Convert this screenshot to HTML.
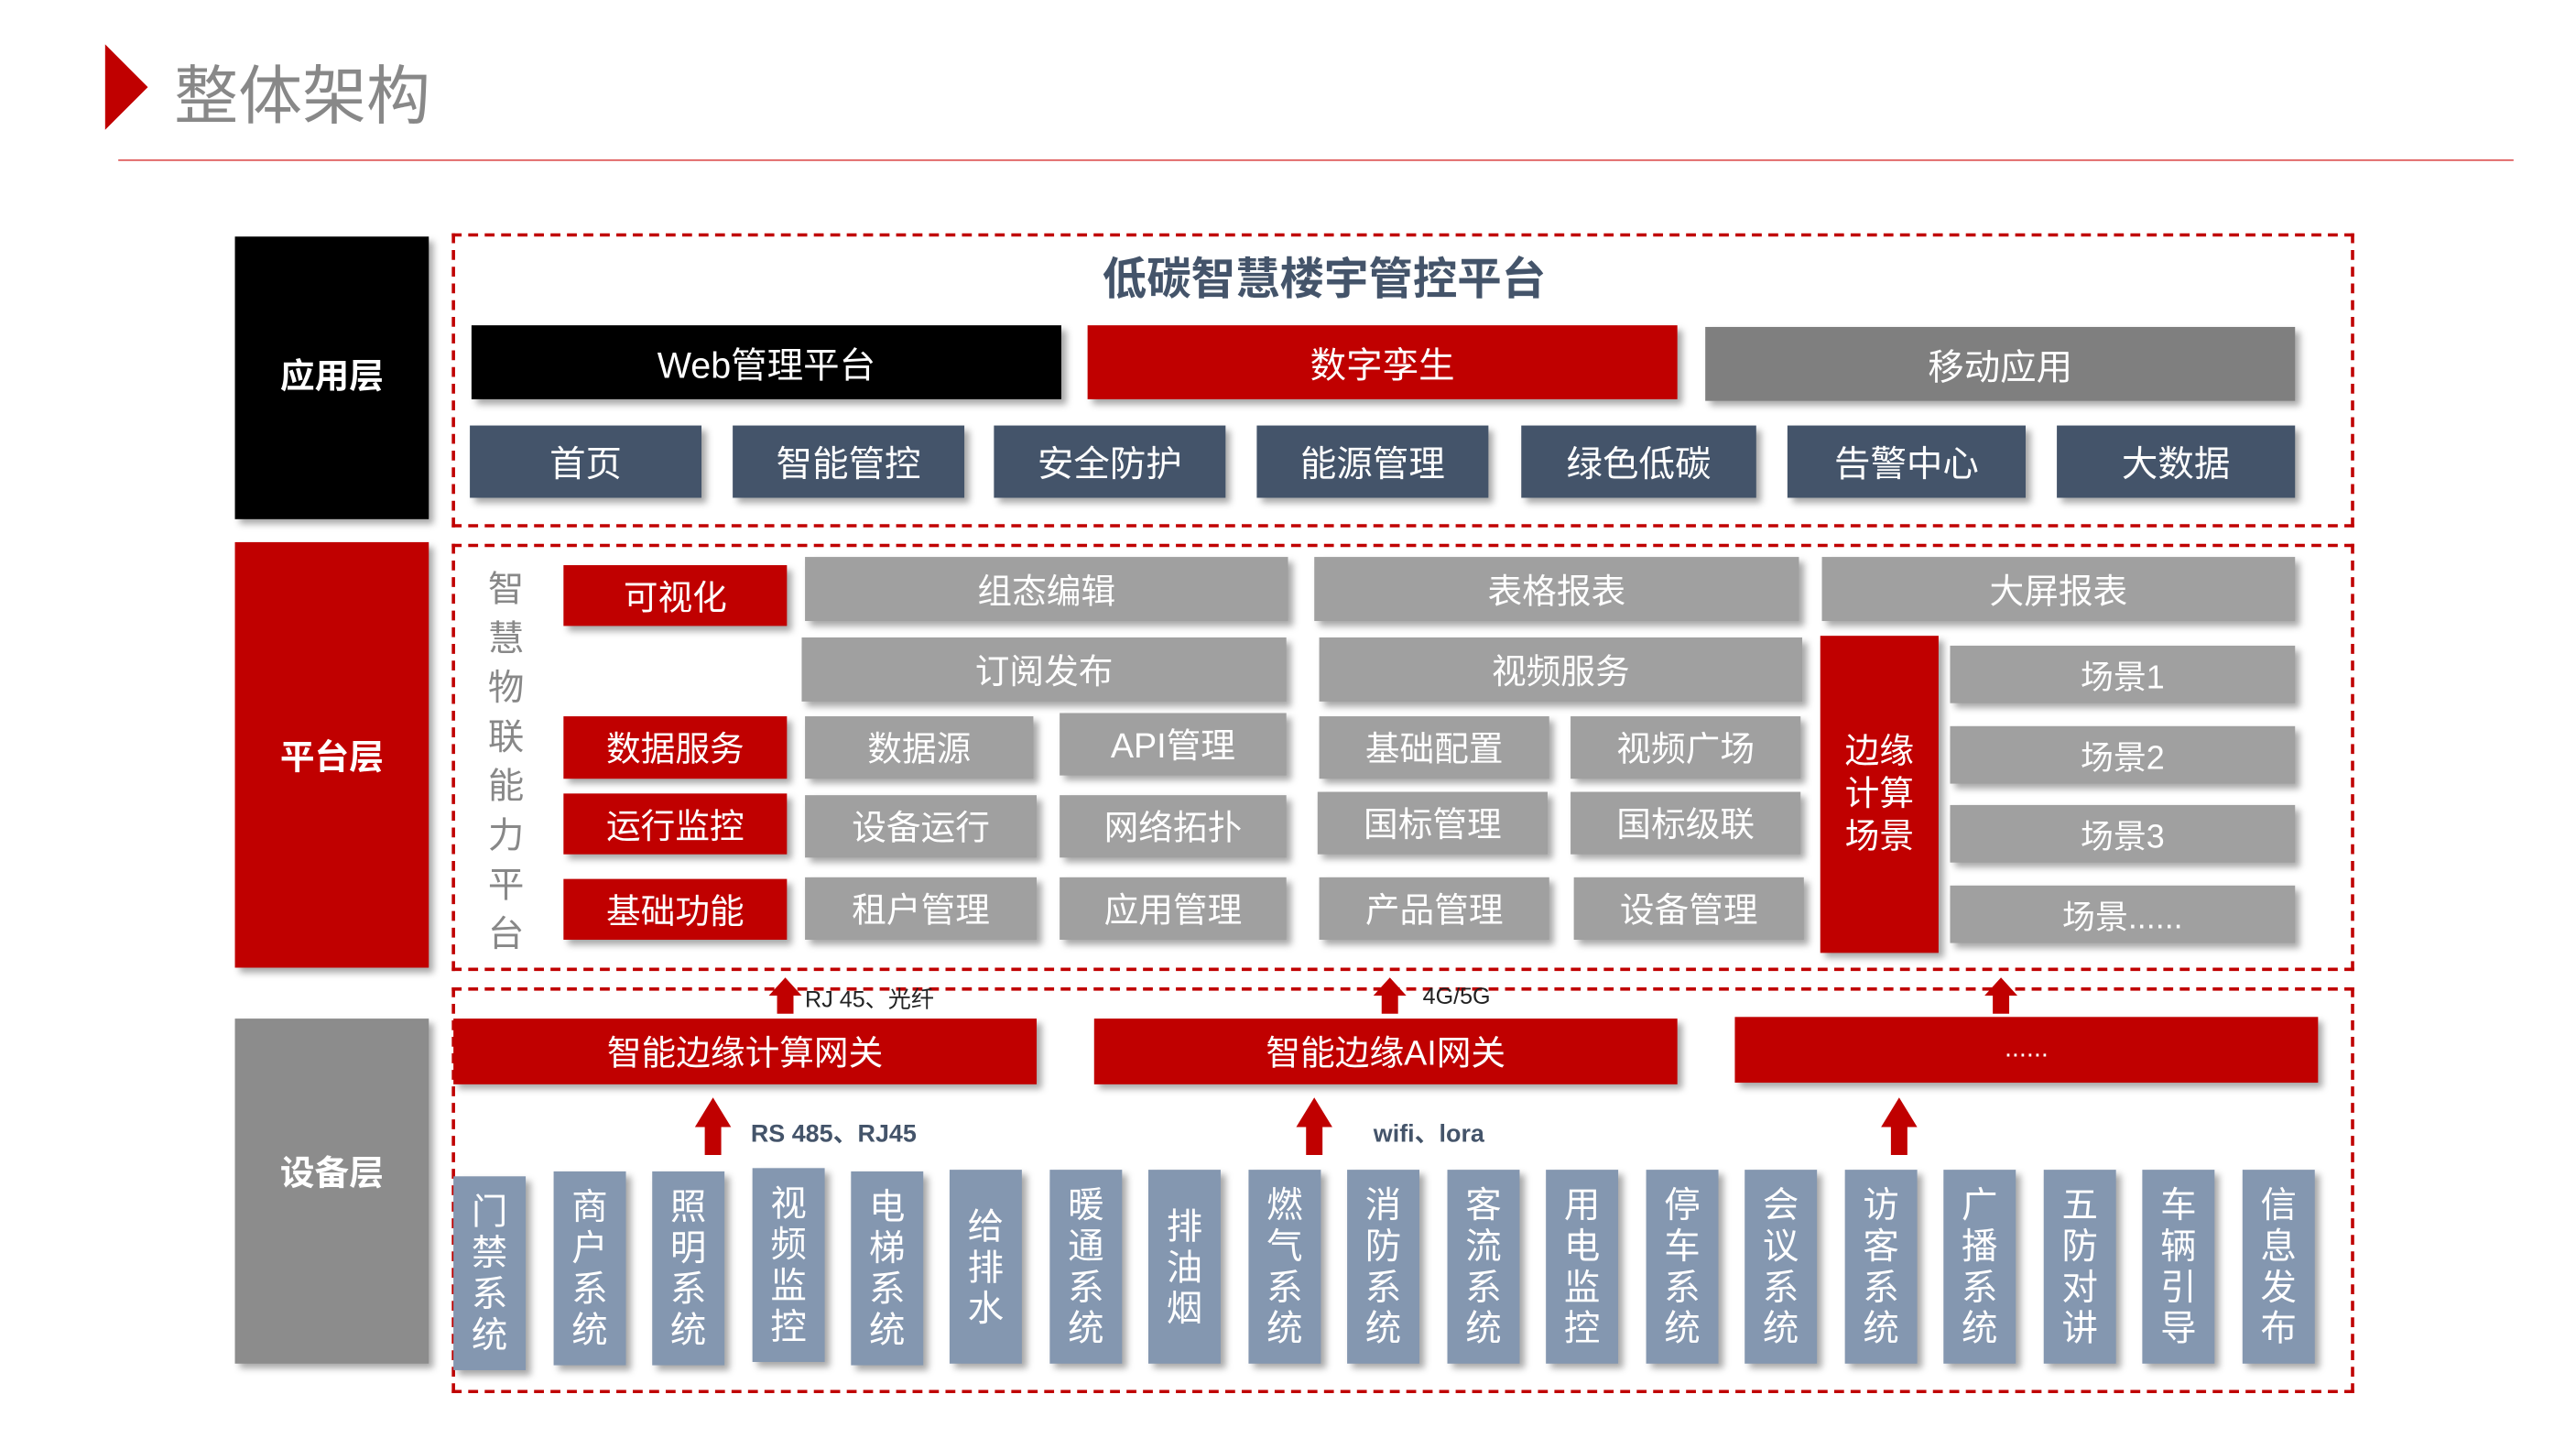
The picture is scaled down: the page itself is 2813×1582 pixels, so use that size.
<!DOCTYPE html>
<html><head><meta charset="utf-8"><style>
html,body{margin:0;padding:0;background:#fff;}
body{width:2813px;height:1582px;overflow:hidden;position:relative;}
#f{position:absolute;left:0;top:0;width:1568px;height:882px;transform:scale(1.794,1.7937);transform-origin:0 0;font-family:"Liberation Sans","Noto Sans CJK SC",sans-serif;}
.b{position:absolute;display:flex;align-items:center;justify-content:center;color:#fff;box-shadow:3px 3px 4px rgba(0,0,0,.35);box-sizing:border-box;}
.d{position:absolute;border:2px dashed #c00000;box-sizing:border-box;}
.r{background:#c00000}.k{background:#000}.g{background:#7f7f7f}.n{background:#44546a}.l{background:#a0a0a0}.v{background:#8497b0}
.t{position:absolute;white-space:nowrap;}
.col{position:absolute;width:44px;top:713px;height:118px;background:#8497b0;color:#fff;font-size:22px;line-height:25px;display:flex;align-items:center;justify-content:center;text-align:center;box-shadow:3px 3px 4px rgba(0,0,0,.35);}
.col span{width:23px;display:block;}
</style></head><body><div id="f">
<svg style="position:absolute;left:62px;top:27px" width="32" height="54"><polygon points="2,0 28,26 2,52" fill="#c00000"/></svg>
<div class="t" style="left:106px;top:28px;font-size:39px;color:#888">整体架构</div>
<div style="position:absolute;left:72px;top:97px;width:1458px;height:1px;background:#e06060"></div>

<div class="b k" style="left:143px;top:144px;width:118px;height:172px;font-size:21px;font-weight:bold;padding-bottom:4px">应用层</div>
<div class="b r" style="left:143px;top:330px;width:118px;height:259px;font-size:21px;font-weight:bold">平台层</div>
<div class="b" style="left:143px;top:620px;width:118px;height:210px;background:#8c8c8c;font-size:21px;font-weight:bold;padding-bottom:24px">设备层</div>

<div class="d" style="left:275px;top:142px;width:1158px;height:179px"></div>
<div class="d" style="left:275px;top:331px;width:1158px;height:260px"></div>
<div class="d" style="left:275px;top:601px;width:1158px;height:247px"></div>

<div class="t" style="left:0;width:1612px;text-align:center;top:148px;font-size:27px;font-weight:bold;color:#44546a">低碳智慧楼宇管控平台</div>
<div class="b k" style="left:287px;top:198px;width:359px;height:45px;font-size:22px">Web管理平台</div>
<div class="b r" style="left:662px;top:198px;width:359px;height:45px;font-size:22px">数字孪生</div>
<div class="b g" style="left:1038px;top:199px;width:359px;height:45px;font-size:22px">移动应用</div>
<div class="b n" style="left:286px;top:259px;width:141px;height:44px;font-size:22px">首页</div>
<div class="b n" style="left:446px;top:259px;width:141px;height:44px;font-size:22px">智能管控</div>
<div class="b n" style="left:605px;top:259px;width:141px;height:44px;font-size:22px">安全防护</div>
<div class="b n" style="left:765px;top:259px;width:141px;height:44px;font-size:22px">能源管理</div>
<div class="b n" style="left:926px;top:259px;width:143px;height:44px;font-size:22px">绿色低碳</div>
<div class="b n" style="left:1088px;top:259px;width:145px;height:44px;font-size:22px">告警中心</div>
<div class="b n" style="left:1252px;top:259px;width:145px;height:44px;font-size:22px">大数据</div>

<div class="t" style="left:297px;top:344px;width:24px;font-size:22px;line-height:30px;color:#888;white-space:normal">智慧物联能力平台</div>
<div class="b r" style="left:343px;top:344px;width:136px;height:37px;font-size:21px">可视化</div>
<div class="b r" style="left:343px;top:436px;width:136px;height:38px;font-size:21px">数据服务</div>
<div class="b r" style="left:343px;top:483px;width:136px;height:37px;font-size:21px">运行监控</div>
<div class="b r" style="left:343px;top:535px;width:136px;height:37px;font-size:21px">基础功能</div>

<div class="b l" style="left:490px;top:339px;width:294px;height:39px;font-size:21px">组态编辑</div>
<div class="b l" style="left:800px;top:339px;width:295px;height:39px;font-size:21px">表格报表</div>
<div class="b l" style="left:1109px;top:339px;width:288px;height:39px;font-size:21px">大屏报表</div>
<div class="b l" style="left:488px;top:388px;width:295px;height:39px;font-size:21px">订阅发布</div>
<div class="b l" style="left:803px;top:388px;width:294px;height:39px;font-size:21px">视频服务</div>
<div class="b l" style="left:490px;top:436px;width:139px;height:38px;font-size:21px">数据源</div>
<div class="b l" style="left:645px;top:434px;width:138px;height:38px;font-size:21px">API管理</div>
<div class="b l" style="left:803px;top:436px;width:140px;height:38px;font-size:21px">基础配置</div>
<div class="b l" style="left:956px;top:436px;width:140px;height:38px;font-size:21px">视频广场</div>
<div class="b l" style="left:490px;top:484px;width:141px;height:38px;font-size:21px">设备运行</div>
<div class="b l" style="left:645px;top:484px;width:138px;height:38px;font-size:21px">网络拓扑</div>
<div class="b l" style="left:802px;top:482px;width:140px;height:38px;font-size:21px">国标管理</div>
<div class="b l" style="left:956px;top:482px;width:140px;height:38px;font-size:21px">国标级联</div>
<div class="b l" style="left:490px;top:534px;width:141px;height:38px;font-size:21px">租户管理</div>
<div class="b l" style="left:645px;top:534px;width:138px;height:38px;font-size:21px">应用管理</div>
<div class="b l" style="left:803px;top:534px;width:140px;height:38px;font-size:21px">产品管理</div>
<div class="b l" style="left:958px;top:534px;width:140px;height:38px;font-size:21px">设备管理</div>
<div class="b r" style="left:1108px;top:387px;width:72px;height:193px;font-size:21px;line-height:26px;text-align:center;padding:0 14px">边缘计算场景</div>
<div class="b l" style="left:1187px;top:393px;width:210px;height:35px;font-size:20px">场景1</div>
<div class="b l" style="left:1187px;top:442px;width:210px;height:35px;font-size:20px">场景2</div>
<div class="b l" style="left:1187px;top:490px;width:210px;height:35px;font-size:20px">场景3</div>
<div class="b l" style="left:1187px;top:539px;width:210px;height:35px;font-size:20px">场景......</div>

<svg style="position:absolute;left:0;top:0;overflow:visible" width="1560" height="877">
<g fill="#c00000">
<polygon points="468,606 478,595 488,606 483,606 483,617 473,617 473,606"/>
<polygon points="836,606 846,595 856,606 851,606 851,617 841,617 841,606"/>
<polygon points="1208,606 1218,595 1228,606 1223,606 1223,617 1213,617 1213,606"/>
<polygon points="423,686 434,668 445,686 439,686 439,703 429,703 429,686"/>
<polygon points="789,686 800,668 811,686 805,686 805,703 795,703 795,686"/>
<polygon points="1145,686 1156,668 1167,686 1161,686 1161,703 1151,703 1151,686"/>
</g></svg>
<div class="t" style="left:490px;top:598px;font-size:14px;color:#222">RJ 45、光纤</div>
<div class="t" style="left:866px;top:598px;font-size:14px;color:#222">4G/5G</div>
<div class="t" style="left:457px;top:679px;font-size:15px;color:#44546a;font-weight:bold">RS 485、RJ45</div>
<div class="t" style="left:836px;top:679px;font-size:15px;color:#44546a;font-weight:bold">wifi、lora</div>

<div class="b r" style="left:276px;top:620px;width:355px;height:40px;font-size:21px">智能边缘计算网关</div>
<div class="b r" style="left:666px;top:620px;width:355px;height:40px;font-size:21px">智能边缘AI网关</div>
<div class="b r" style="left:1056px;top:619px;width:355px;height:40px;font-size:16px">......</div>

<div class="col" style="left:276px;top:716px"><span>门禁系统</span></div>
<div class="col" style="left:337px"><span>商户系统</span></div>
<div class="col" style="left:397px"><span>照明系统</span></div>
<div class="col" style="left:458px;top:711px"><span>视频监控</span></div>
<div class="col" style="left:518px"><span>电梯系统</span></div>
<div class="col" style="left:578px;top:712px"><span>给排水</span></div>
<div class="col" style="left:639px;top:712px"><span>暖通系统</span></div>
<div class="col" style="left:699px;top:712px"><span>排油烟</span></div>
<div class="col" style="left:760px;top:712px"><span>燃气系统</span></div>
<div class="col" style="left:820px;top:712px"><span>消防系统</span></div>
<div class="col" style="left:881px;top:712px"><span>客流系统</span></div>
<div class="col" style="left:941px;top:712px"><span>用电监控</span></div>
<div class="col" style="left:1002px;top:712px"><span>停车系统</span></div>
<div class="col" style="left:1062px;top:712px"><span>会议系统</span></div>
<div class="col" style="left:1123px;top:712px"><span>访客系统</span></div>
<div class="col" style="left:1183px;top:712px"><span>广播系统</span></div>
<div class="col" style="left:1244px;top:712px"><span>五防对讲</span></div>
<div class="col" style="left:1304px;top:712px"><span>车辆引导</span></div>
<div class="col" style="left:1365px;top:712px"><span>信息发布</span></div>
</div></body></html>
